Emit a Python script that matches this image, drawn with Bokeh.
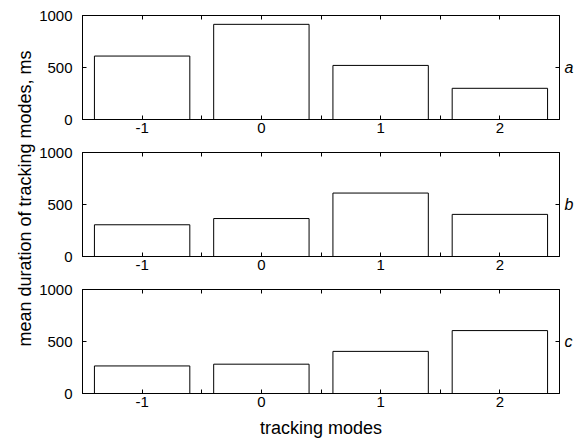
import math
from bokeh.plotting import figure
from bokeh.models import FixedTicker, LinearAxis, Range1d, CustomLabelingPolicy
from bokeh.layouts import row, column
from bokeh.core.properties import value
from bokeh.embed import file_html
from bokeh.resources import INLINE

# ---- data ----
modes = [-1, 0, 1, 2]
dur_a = [610, 915, 520, 300]
dur_b = [305, 365, 610, 405]
dur_c = [265, 282, 405, 605]
panel_letters = ["a", "b", "c"]
x_ticks = [-1, 0, 1, 2]
x_tick_labels = {-1: "-1", 0: "0", 1: "1", 2: "2"}
x_minor_ticks = [-0.5, 0.5, 1.5]
y_ticks = [0, 500, 1000]
letter_tick = [500]
x_label = "tracking modes"
y_label = "mean duration of tracking modes, ms"

FONT = "Liberation Sans"


def style_axis(ax):
    ax.axis_line_color = "black"
    ax.axis_line_width = 1
    ax.major_tick_line_color = "black"
    ax.minor_tick_line_color = "black"
    ax.major_tick_in = 4
    ax.major_tick_out = 0
    ax.minor_tick_in = 4
    ax.minor_tick_out = 0
    ax.major_label_text_font = FONT
    ax.major_label_text_font_size = "15px"
    ax.major_label_text_color = "black"


def make_panel(values, letter, height, top, bottom, show_xlabel=False):
    p = figure(width=540, height=height,
               x_range=Range1d(-1.5, 2.5), y_range=Range1d(0, 1000),
               output_backend="svg", toolbar_location=None,
               min_border_left=45, min_border_right=15,
               min_border_top=top, min_border_bottom=bottom)
    p.background_fill_color = "white"
    p.border_fill_color = "white"
    p.outline_line_color = "black"
    p.outline_line_width = 1
    p.grid.visible = False

    p.vbar(x=modes, top=values, bottom=0, width=0.8,
           fill_color="white", line_color="black", line_width=1)

    xa = p.xaxis[0]
    xa.ticker = FixedTicker(ticks=x_ticks, minor_ticks=x_minor_ticks)
    xa.major_label_overrides = x_tick_labels
    style_axis(xa)
    xa.major_label_standoff = 3
    if show_xlabel:
        xa.axis_label = x_label
        xa.axis_label_text_font = FONT
        xa.axis_label_text_font_size = "18px"
        xa.axis_label_text_font_style = "normal"
        xa.axis_label_text_color = "black"
        xa.axis_label_standoff = 8

    ya = p.yaxis[0]
    ya.ticker = FixedTicker(ticks=y_ticks, minor_ticks=[])
    style_axis(ya)
    ya.major_label_standoff = 10

    # top axis: tick marks only, no labels
    top_ax = LinearAxis(ticker=FixedTicker(ticks=x_ticks, minor_ticks=x_minor_ticks),
                        major_label_policy=CustomLabelingPolicy(code="return new Set()"))
    style_axis(top_ax)
    top_ax.major_label_standoff = 0
    p.add_layout(top_ax, "above")

    # right axis: single inner tick at 500 carrying the panel letter
    right_ax = LinearAxis(ticker=FixedTicker(ticks=letter_tick, minor_ticks=[]),
                          major_label_overrides={500: letter})
    style_axis(right_ax)
    right_ax.major_label_text_font_style = "italic"
    right_ax.major_label_text_font_size = "16px"
    right_ax.major_label_standoff = 5
    p.add_layout(right_ax, "right")
    return p


fa = make_panel(dur_a, panel_letters[0], 139, 15, 20)
fb = make_panel(dur_b, panel_letters[1], 137, 13, 20)
fc = make_panel(dur_c, panel_letters[2], 165, 13, 48, show_xlabel=True)

lab = figure(width=36, height=441, x_range=Range1d(0, 36), y_range=Range1d(0, 441),
             output_backend="svg", toolbar_location=None,
             x_axis_location=None, y_axis_location=None,
             min_border=0, min_border_left=0, min_border_right=0,
             min_border_top=0, min_border_bottom=0)
lab.outline_line_color = None
lab.grid.visible = False
lab.background_fill_color = "white"
lab.border_fill_color = "white"
lab.text(x=[24.5], y=[243], text=[y_label], angle=math.pi / 2,
         text_align="center", text_baseline="middle",
         text_font=value(FONT), text_font_size="18px", text_color="black")

layout = row(lab, column(fa, fb, fc, spacing=0), spacing=0)

open("out.html", "w").write(file_html(layout, INLINE))
